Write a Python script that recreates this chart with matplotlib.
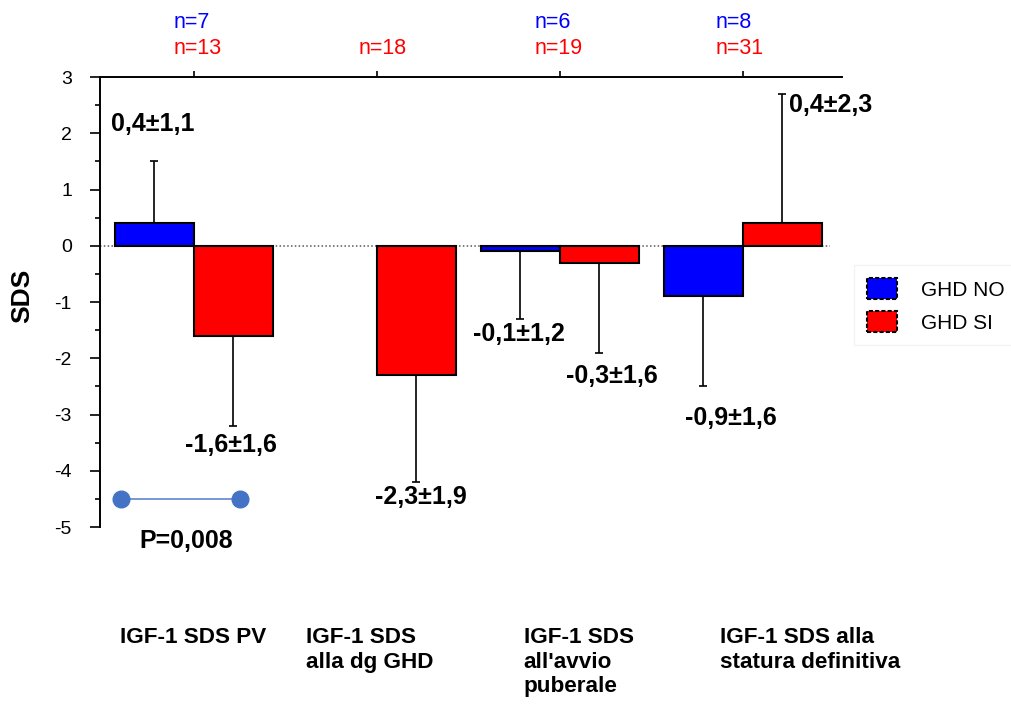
import numpy as np
import matplotlib
matplotlib.use("Agg")
import matplotlib.pyplot as plt
from matplotlib.patches import Patch
from matplotlib.ticker import MultipleLocator

plt.rcParams["font.family"] = ["Liberation Sans", "DejaVu Sans"]
plt.rcParams["axes.unicode_minus"] = False

# ---- data -------------------------------------------------------------
categories = ["IGF-1 SDS PV", "IGF-1 SDS\nalla dg GHD",
              "IGF-1 SDS\nall'avvio\npuberale", "IGF-1 SDS alla\nstatura definitiva"]
ghd_no_mean = [0.4, np.nan, -0.1, -0.9]
ghd_no_sd = [1.1, np.nan, 1.2, 1.6]
ghd_si_mean = [-1.6, -2.3, -0.3, 0.4]
ghd_si_sd = [1.6, 1.9, 1.6, 2.3]
ghd_no_n = ["n=7", "", "n=6", "n=8"]
ghd_si_n = ["n=13", "n=18", "n=19", "n=31"]
p_label = "P=0,008"
p_level = -4.5
series_names = ["GHD NO", "GHD SI"]

# ---- layout -----------------------------------------------------------
BLUE, RED = "#0000FF", "#FF0000"
bar_w = 0.432
x = np.arange(len(categories))

fig = plt.figure(figsize=(10.11, 7.04), dpi=100)
ax = fig.add_axes([0.0989, 0.2514, 0.7339, 0.6392])
ax.set_xlim(-0.513, 3.542)
ax.set_ylim(-5, 3)

# zero reference line
ax.axhline(0, xmin=0.0, xmax=0.984, color="0.35", lw=1.1, ls=(0, (1, 1.5)), zorder=1)


def one_sided_err(mean, sd):
    """Error bar drawn only away from zero."""
    mean = np.asarray(mean, float)
    sd = np.asarray(sd, float)
    lower = np.where(mean < 0, sd, 0.0)
    upper = np.where(mean >= 0, sd, 0.0)
    return np.vstack([lower, upper])


for means, sds, col, side in [(ghd_no_mean, ghd_no_sd, BLUE, -1),
                              (ghd_si_mean, ghd_si_sd, RED, 1)]:
    xs = x + side * bar_w / 2
    ax.bar(xs, means, width=bar_w, color=col, edgecolor="black", linewidth=1.5, zorder=2)
    ax.errorbar(xs, means, yerr=one_sided_err(means, sds), fmt="none",
                ecolor="black", elinewidth=1.2, capsize=2.6, capthick=1.2, zorder=3)


def fmt(v):
    return f"{v:.1f}".replace(".", ",")


# value labels: offsets (points) from the end of each error bar
label_offsets_no = [(-1, 27, "center"), None, (-1, -11, "center"), (20, -23, "center")]
label_offsets_si = [(-2, -14, "center"), (3, -11, "center"), (9, -17, "center"), (5, -8, "left")]
for means, sds, offs, side in [(ghd_no_mean, ghd_no_sd, label_offsets_no, -1),
                               (ghd_si_mean, ghd_si_sd, label_offsets_si, 1)]:
    for i, (m, s, o) in enumerate(zip(means, sds, offs)):
        if np.isnan(m) or o is None:
            continue
        end = m + s if m >= 0 else m - s
        ax.annotate(f"{fmt(m)}±{fmt(s)}", xy=(x[i] + side * bar_w / 2, end),
                    xytext=(o[0], o[1]), textcoords="offset points",
                    ha=o[2], va="center", fontsize=18, fontweight="bold",
                    annotation_clip=False)

# significance marker between the first pair
ax.plot([-0.40, 0.25], [p_level, p_level], color="#6B8FD6", lw=1.3, zorder=4,
        marker="o", markersize=12, markerfacecolor="#4472C4", markeredgecolor="#4472C4",
        clip_on=False)
ax.text(-0.04, -5.24, p_label, ha="center", va="center", fontsize=18,
        fontweight="bold", clip_on=False)

# spines and ticks
for side in ("right", "bottom"):
    ax.spines[side].set_visible(False)
ax.spines["left"].set_linewidth(1.4)
ax.spines["top"].set_linewidth(1.4)
ax.xaxis.tick_top()
ax.set_xticks(x)
ax.tick_params(axis="x", which="both", top=True, labeltop=False, bottom=False,
               direction="out", length=4, width=1.2)
ax.yaxis.set_major_locator(MultipleLocator(1))
ax.yaxis.set_minor_locator(MultipleLocator(0.5))
ax.tick_params(axis="y", which="major", direction="out", length=7.2, width=1.2,
               labelsize=14, pad=13)
ax.tick_params(axis="y", which="minor", direction="out", length=3.6, width=1.2)

fig.text(22 / 1011, 1 - 296 / 704, "SDS", rotation=90, ha="center", va="center",
         fontsize=19, fontweight="bold")

# sample sizes above the plot
n_left = [-0.11, -0.10, -0.14, -0.15]
trans = matplotlib.transforms.blended_transform_factory(ax.transData, fig.transFigure)
for i in range(len(categories)):
    ax.text(x[i] + n_left[i], 1 - 23 / 704, ghd_no_n[i], color=BLUE, ha="left",
            va="center", fontsize=15.5, transform=trans, clip_on=False)
    ax.text(x[i] + n_left[i], 1 - 48 / 704, ghd_si_n[i], color=RED, ha="left",
            va="center", fontsize=15.5, transform=trans, clip_on=False)

# category names under the plot
cat_left = [-0.404, -0.388, -0.197, -0.126]
for i, name in enumerate(categories):
    ax.text(x[i] + cat_left[i], 1 - 627 / 704, name, ha="left", va="top",
            fontsize=16.2, fontweight="bold", linespacing=1.22,
            transform=trans, clip_on=False)

handles = [Patch(facecolor=BLUE, edgecolor="black", linewidth=1.5, linestyle=(0, (2, 1))),
           Patch(facecolor=RED, edgecolor="black", linewidth=1.5, linestyle=(0, (2, 1)))]
leg = fig.legend(handles, series_names, loc="upper left",
                 bbox_to_anchor=(844 / 1011, 1 - 255 / 704), fontsize=15,
                 frameon=True, fancybox=False, handlelength=1.45, handleheight=1.2,
                 handletextpad=1.15, labelspacing=0.55, borderpad=0.6)
leg.get_frame().set_edgecolor("#f0f0f0")
leg.get_frame().set_linewidth(1.0)

fig.savefig("out.png", dpi=100, facecolor="white")
